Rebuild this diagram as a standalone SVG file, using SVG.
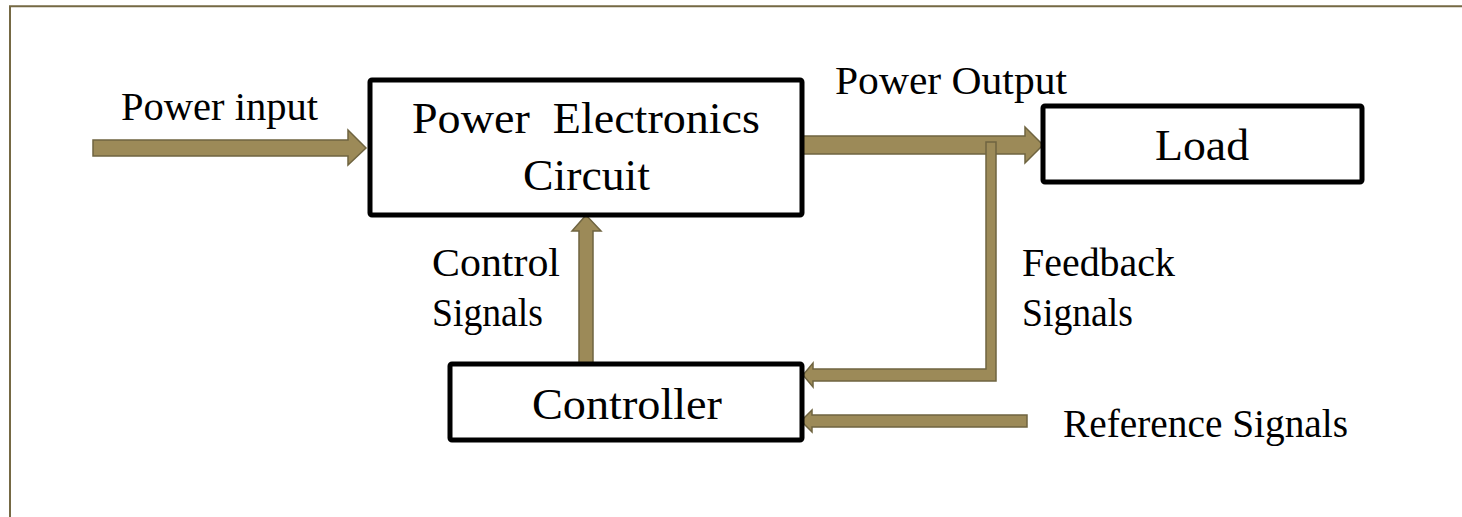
<svg xmlns="http://www.w3.org/2000/svg" width="1462" height="517" viewBox="0 0 1462 517">
<style>
.frame{stroke:#756944;stroke-width:2;fill:none}
.box{fill:#fff;stroke:#000;stroke-width:5}
.arr{fill:#9C8A58;stroke:#6F6440;stroke-width:1.5;stroke-linejoin:miter}
text{font-family:"Liberation Serif","DejaVu Serif",serif;fill:#000}
.lbl{font-size:39px}
.big{font-size:44px}
</style>
<rect width="1462" height="517" fill="#fff"/>
<path class="frame" d="M10,517 V6.3 H1462"/>
<g id="connectors">
<polygon id="power-input" class="arr" points="93,140 348,140 348,130 366,148 348,165 348,156 93,156"/>
<polygon id="power-output" class="arr" points="802,136 1025,136 1025,127 1043,145 1025,163 1025,154 802,154"/>
<polygon id="control-signals" class="arr" points="579,364 579,231 572,231 586,215 601,231 593,231 593,364"/>
<polygon id="feedback-signals" class="arr" points="986,142 996,142 996,381 813,381 813,387 803,375 813,363 813,369 986,369"/>
<polygon id="reference-signals" class="arr" points="1027,415 1027,427 812,427 812,432 801,421 812,410 812,415"/>
</g>
<g id="pe-circuit">
<rect class="box" x="370" y="80" width="432" height="135" rx="2"/>
<text class="big" x="412" y="133" textLength="348" lengthAdjust="spacingAndGlyphs" xml:space="preserve">Power  Electronics</text>
<text class="big" x="523" y="190" textLength="127" lengthAdjust="spacingAndGlyphs">Circuit</text>
</g>
<g id="load">
<rect class="box" x="1043" y="106" width="319" height="76" rx="2"/>
<text class="big" x="1155" y="160" textLength="94" lengthAdjust="spacingAndGlyphs">Load</text>
</g>
<g id="controller">
<rect class="box" x="450" y="364" width="352" height="76" rx="2"/>
<text class="big" x="532" y="419" textLength="190" lengthAdjust="spacingAndGlyphs">Controller</text>
</g>
<g id="labels">
<text class="lbl" x="121" y="120" textLength="197" lengthAdjust="spacingAndGlyphs">Power input</text>
<text class="lbl" x="835" y="94" textLength="232" lengthAdjust="spacingAndGlyphs">Power Output</text>
<text class="lbl" x="432" y="276" textLength="128" lengthAdjust="spacingAndGlyphs">Control</text>
<text class="lbl" x="432" y="326" textLength="111" lengthAdjust="spacingAndGlyphs">Signals</text>
<text class="lbl" x="1022" y="276" textLength="153" lengthAdjust="spacingAndGlyphs">Feedback</text>
<text class="lbl" x="1022" y="326" textLength="111" lengthAdjust="spacingAndGlyphs">Signals</text>
<text class="lbl" x="1063" y="437" textLength="285" lengthAdjust="spacingAndGlyphs">Reference Signals</text>
</g>
</svg>
